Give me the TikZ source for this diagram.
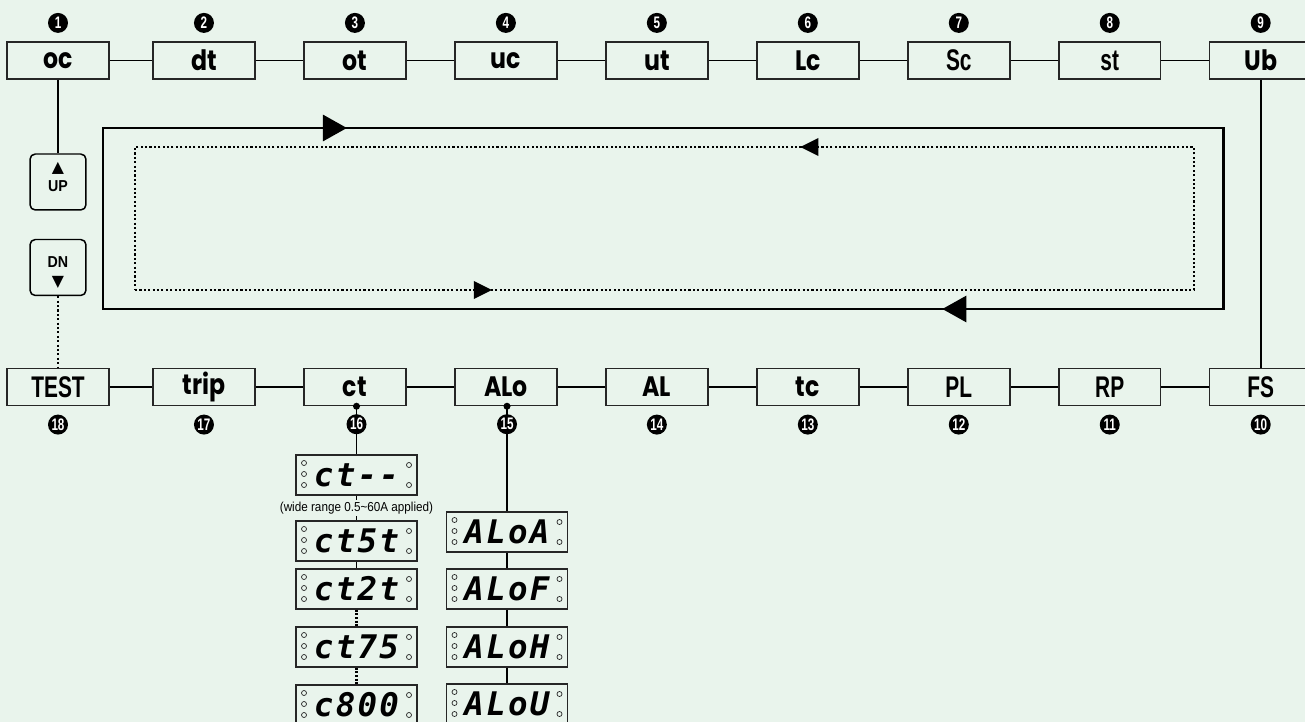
\documentclass[tikz,border=0pt]{standalone}
\usepackage{fontspec}
\setmainfont{Poppins}
\newfontfamily\labelfont[FakeStretch=0.84]{Poppins}
\newfontfamily\narrowfont[FakeStretch=0.7]{Liberation Sans Bold}
\newfontfamily\notefont[FakeStretch=0.9]{Liberation Sans}
\newfontfamily\segfont[LetterSpace=7]{DejaVu Sans Mono}
\newfontfamily\symfont{DejaVu Sans}
\usetikzlibrary{calc,positioning}
\usetikzlibrary{arrows.meta,decorations.markings}
\definecolor{panel}{RGB}{233,244,236}

\begin{document}
\begin{tikzpicture}[x=0.02cm,y=-0.02cm,node distance=0.95cm,
		box/.style={draw=black!85,line width=0.85pt,minimum width=2.04cm,minimum height=0.74cm,
			inner sep=0pt,font=\labelfont\bfseries\fontsize{16}{16}\selectfont},
		narrow/.style={font=\narrowfont\fontsize{17}{17}\selectfont},
		num/.style={circle,fill=black,text=white,minimum size=0.4cm,inner sep=0pt,
			font=\narrowfont\fontsize{9.5}{9.5}\selectfont},
		btn/.style={draw,line width=0.85pt,rounded corners=3pt,minimum size=1.12cm},
		btnlabel/.style={inner sep=0pt,align=center,font=\notefont\bfseries\fontsize{9}{11}\selectfont},
		disp/.style={draw=black!85,line width=0.75pt,minimum width=2.42cm,minimum height=0.8cm,inner sep=0pt,
			font=\segfont\bfseries\itshape\fontsize{18.5}{18.5}\selectfont,
			path picture={
				\foreach \dy in {8,19,30}
					\draw[line width=0.4pt] ($(path picture bounding box.north west)+(8,\dy)$) circle[radius=0.05cm];
				\foreach \dy in {10,30}
					\draw[line width=0.4pt] ($(path picture bounding box.north east)+(-8,\dy)$) circle[radius=0.05cm];
			}},
		link/.style={line width=0.85pt},
		dots/.style={line width=1.1pt,dash pattern=on 1.2pt off 1.3pt},
		bigdots/.style={line width=1.6pt,dash pattern=on 1.2pt off 0.9pt},
		bigtip/.style={decoration={markings,mark=at position #1 with {\arrow{Triangle[length=0.48cm,width=0.52cm]}}}},
		smalltip/.style={decoration={markings,mark=at position #1 with {\arrow{Triangle[length=0.36cm,width=0.35cm]}}}}]
		\fill[panel] (0,0) rectangle (1305,722);
		\useasboundingbox (0,0) rectangle (1305,722);

		\node[box] (oc) at (58,60.5) {oc};
		\node[box,right=0.85cm of oc] (dt) {dt};
		\node[box,right=of dt] (ot) {ot};
		\node[box,right=of ot] (uc) {uc};
		\node[box,right=of uc] (ut) {ut};
		\node[box,right=of ut] (Lc) {Lc};
		\node[box,narrow,right=of Lc] (Sc) {Sc};
		\node[box,narrow,right=of Sc] (st) {st};
		\node[box,right=of st] (Ub) {Ub};

		\node[box,narrow] (test) at (58,387) {TEST};
		\node[box,right=0.85cm of test] (trip) {trip};
		\node[box,right=of trip] (ct) {ct};
		\node[box,right=of ct] (alo) {ALo};
		\node[box,right=of alo] (al) {AL};
		\node[box,right=of al] (tc) {tc};
		\node[box,narrow,right=of tc] (pl) {PL};
		\node[box,narrow,right=of pl] (rp) {RP};
		\node[box,narrow,right=of rp] (fs) {FS};

		\node[btn,label={[btnlabel,anchor=north,yshift=-5pt]north:{{\symfont ▲}\\UP}}] (up) at (58,182) {};
		\node[btn,label={[btnlabel,anchor=south,yshift=4pt]south:{DN\\{\symfont ▼}}}] (dn) at (58,267.5) {};

		\node[disp] (d1) at (356.5,475) {ct--};
		\node[disp] (d2) at (356.5,541) {ct5t};
		\node[disp] (d3) at (356.5,589) {ct2t};
		\node[disp] (d4) at (356.5,647) {ct75};
		\node[disp] (d5) at (356.5,705) {c800};
		\node[fill=panel,inner sep=1pt,font=\notefont\fontsize{7.4}{8}\selectfont] (note) at (356.5,508)
			{(wide range 0.5\textasciitilde60A applied)};
		\node[disp] (a1) at (507,532) {ALoA};
		\node[disp] (a2) at (507,589) {ALoF};
		\node[disp] (a3) at (507,647) {ALoH};
		\node[disp] (a4) at (507,704) {ALoU};

		\draw[link] (oc) -- (dt) -- (ot) -- (uc) -- (ut) -- (Lc) -- (Sc) -- (st) -- (Ub);
		\draw[link] (test) -- (trip) -- (ct) -- (alo) -- (al) -- (tc) -- (pl) -- (rp) -- (fs);
		\draw[line width=1.5pt] (oc) -- (up);
		\draw[dots] (dn) -- (test);
		\draw[line width=1.1pt] (Ub) -- (fs);

		% display lists
		\coordinate (ctdot) at (ct.south -| d1);
		\coordinate (alodot) at (alo.south -| a1);
		\fill (ctdot) circle[radius=0.07cm] (alodot) circle[radius=0.07cm];
		\draw[link] (ctdot) -- (d1) -- (note) -- (d2) -- (d3);
		\draw[bigdots] (d3) -- (d4) -- (d5);
		\draw[link] (alodot) -- (a1) -- (a2) -- (a3) -- (a4);

		% scroll loop
		\draw[line width=1.7pt,postaction={decorate},bigtip=8.5cm] (103,309) -- (103,128) -- (1223,128) -- (1223,309) -- cycle;
		\draw[line width=1.7pt,postaction={decorate},bigtip=35.26cm,draw=none] (103,309) -- (103,128) -- (1223,128) -- (1223,309) -- cycle;
		\draw[dots,postaction={decorate},smalltip=7.14cm] (135,290) -- (1194,290) -- (1194,147) -- (135,147) -- cycle;
		\draw[dots,postaction={decorate},smalltip=31.92cm,draw=none] (135,290) -- (1194,290) -- (1194,147) -- (135,147) -- cycle;

		\node[num,above=0.16cm of oc] (n1) {1};
		\node[num,above=0.16cm of dt] (n2) {2};
		\node[num,above=0.16cm of ot] (n3) {3};
		\node[num,above=0.16cm of uc] (n4) {4};
		\node[num,above=0.16cm of ut] (n5) {5};
		\node[num,above=0.16cm of Lc] (n6) {6};
		\node[num,above=0.16cm of Sc] (n7) {7};
		\node[num,above=0.16cm of st] (n8) {8};
		\node[num,above=0.16cm of Ub] (n9) {9};
		\node[num,below=0.16cm of fs] (n10) {10};
		\node[num,below=0.16cm of rp] (n11) {11};
		\node[num,below=0.16cm of pl] (n12) {12};
		\node[num,below=0.16cm of tc] (n13) {13};
		\node[num,below=0.16cm of al] (n14) {14};
		\node[num] (n15) at ($(alodot)+(0,18)$) {15};
		\node[num] (n16) at ($(ctdot)+(0,18)$) {16};
		\node[num,below=0.16cm of trip] (n17) {17};
		\node[num,below=0.16cm of test] (n18) {18};
	\end{tikzpicture}
\end{document}
